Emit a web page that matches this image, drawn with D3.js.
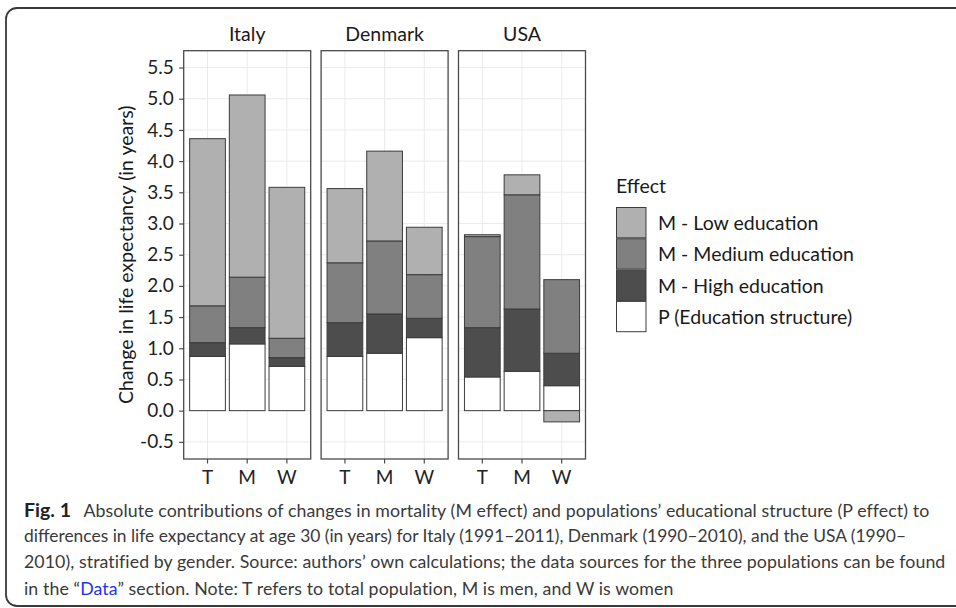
<!DOCTYPE html>
<html><head><meta charset="utf-8">
<script src="https://cdn.jsdelivr.net/npm/d3@7"></script>
<style>body{margin:0;background:#fff}svg{display:block}</style>
</head><body>
<script>
// ---- data ----
const panels = ["Italy", "Denmark", "USA"];
const groups = ["T", "M", "W"];
const effects = ["M - Low education", "M - Medium education", "M - High education", "P (Education structure)"];
// values per panel (Italy T,M,W | Denmark T,M,W | USA T,M,W)
const pEffect = [0.87, 1.07, 0.71, 0.87, 0.92, 1.17, 0.54, 0.63, 0.40];
const mHigh   = [0.22, 0.26, 0.14, 0.54, 0.63, 0.31, 0.79, 1.00, 0.52];
const mMedium = [0.59, 0.81, 0.31, 0.96, 1.17, 0.70, 1.46, 1.83, 1.18];
const mLow    = [2.68, 2.92, 2.42, 1.19, 1.44, 0.76, 0.03, 0.32, -0.18];
const yTicks = [-0.5, 0, 0.5, 1, 1.5, 2, 2.5, 3, 3.5, 4, 4.5, 5, 5.5];
const colors = ["#b0b0b0", "#808080", "#4d4d4d", "#ffffff"];
const captionLines = [
  "Absolute contributions of changes in mortality (M effect) and populations\u2019 educational structure (P effect) to",
  "differences in life expectancy at age 30 (in years) for Italy (1991\u20132011), Denmark (1990\u20132010), and the USA (1990\u2013",
  "2010), stratified by gender. Source: authors\u2019 own calculations; the data sources for the three populations can be found"
];
const captionLast = ["in the \u201c", "Data", "\u201d section. Note: T refers to total population, M is men, and W is women"];

// ---- build ----
const W = 956, H = 608;
const svg = d3.select("body").append("svg").attr("width", W).attr("height", H);
const chartFont = "Lato";

// outer frame
svg.append("rect").attr("x", 6).attr("y", 8).attr("width", 990).attr("height", 598)
  .attr("rx", 11).attr("fill", "none").attr("stroke", "#3a3a3a").attr("stroke-width", 1.8);

const rows = [];
panels.forEach((p, pi) => groups.forEach((g, gi) => {
  const k = pi * 3 + gi;
  rows.push({panel: p, group: g, P: pEffect[k], High: mHigh[k], Medium: mMedium[k], Low: mLow[k]});
}));
const stackKeys = ["P", "High", "Medium", "Low"];
const keyColor = {Low: colors[0], Medium: colors[1], High: colors[2], P: colors[3]};
const stacked = d3.stack().keys(stackKeys).offset(d3.stackOffsetDiverging)(rows);

const yTop = 50.7, yBottom = 459;
const y = d3.scaleLinear().domain([-0.775, 5.77]).range([yBottom, yTop]);
const panelW = 127, panelLeft0 = 183.7, panelStep = 137.4;

panels.forEach((p, pi) => {
  const x0 = panelLeft0 + pi * panelStep;
  const g = svg.append("g").attr("transform", `translate(${x0},0)`);
  const x = d3.scaleBand().domain(groups).range([0, panelW]).paddingInner(0.1).paddingOuter(0.15);
  // grid
  g.append("g").selectAll("line").data(yTicks).join("line")
    .attr("x1", 0).attr("x2", panelW).attr("y1", d => y(d)).attr("y2", d => y(d))
    .attr("stroke", "#ebebeb").attr("stroke-width", 1);
  g.append("g").selectAll("line").data(groups).join("line")
    .attr("x1", d => x(d) + x.bandwidth() / 2).attr("x2", d => x(d) + x.bandwidth() / 2)
    .attr("y1", yTop).attr("y2", yBottom)
    .attr("stroke", "#ebebeb").attr("stroke-width", 1);
  // bars
  stacked.forEach(layer => {
    g.append("g").selectAll("rect").data(layer.filter(d => d.data.panel === p)).join("rect")
      .attr("x", d => x(d.data.group))
      .attr("width", x.bandwidth())
      .attr("y", d => y(Math.max(d[0], d[1])))
      .attr("height", d => Math.abs(y(d[0]) - y(d[1])))
      .attr("fill", keyColor[layer.key])
      .attr("stroke", "#3c3c3c").attr("stroke-width", 1);
  });
  // border
  g.append("rect").attr("x", 0).attr("y", yTop).attr("width", panelW).attr("height", yBottom - yTop)
    .attr("fill", "none").attr("stroke", "#4a4a4a").attr("stroke-width", 1.3);
  // x axis
  const ax = g.append("g").attr("transform", `translate(0,${yBottom})`)
    .call(d3.axisBottom(x).tickSize(4.5).tickPadding(7));
  ax.select(".domain").remove();
  ax.selectAll("line").attr("stroke", "#4a4a4a").attr("stroke-width", 1.2);
  ax.selectAll("text").attr("font-family", chartFont).attr("font-size", 19).attr("fill", "#222");
  // strip
  svg.append("text").attr("x", x0 + panelW / 2).attr("y", 40.5).attr("text-anchor", "middle")
    .attr("font-family", chartFont).attr("font-size", 19.5).attr("fill", "#1a1a1a").text(p);
});

// y axis
const ay = svg.append("g").attr("transform", `translate(${panelLeft0},0)`)
  .call(d3.axisLeft(y).tickValues(yTicks).tickFormat(d => d.toFixed(1)).tickSize(4.5).tickPadding(5.5));
ay.select(".domain").remove();
ay.selectAll("line").attr("stroke", "#4a4a4a").attr("stroke-width", 1.2);
ay.selectAll("text").attr("font-family", chartFont).attr("font-size", 19).attr("fill", "#222");

svg.append("text").attr("transform", `translate(133,${(yTop + yBottom) / 2}) rotate(-90)`)
  .attr("text-anchor", "middle").attr("font-family", chartFont).attr("font-size", 19.5)
  .attr("fill", "#1a1a1a").text("Change in life expectancy (in years)");

// legend
const lg = svg.append("g").attr("transform", "translate(616,0)");
lg.append("text").attr("x", 0).attr("y", 193).attr("font-family", chartFont).attr("font-size", 19.5)
  .attr("fill", "#1a1a1a").text("Effect");
effects.forEach((e, i) => {
  const yy = 207.5 + i * 31.3;
  lg.append("rect").attr("x", 0.5).attr("y", yy).attr("width", 29.5).attr("height", 30.3)
    .attr("fill", colors[i]).attr("stroke", "#3c3c3c").attr("stroke-width", 1);
  lg.append("text").attr("x", 42).attr("y", yy + 22.5).attr("font-family", chartFont).attr("font-size", 19.5)
    .attr("fill", "#1a1a1a").text(e);
});

// caption
const capFont = "Lato";
const lineY = [516.7, 542, 568.3, 594.5];
svg.append("text").attr("x", 24).attr("y", lineY[0]).attr("font-family", capFont).attr("font-size", 19.5)
  .attr("font-weight", "bold").attr("fill", "#222").text("Fig. 1");
const capWidths = [[83.5, 929], [24, 906], [24, 946]];
// find a common font size so the lines fit their widths
const probe = svg.append("text").attr("font-family", capFont).attr("font-size", 20);
let scaleSum = 0;
captionLines.forEach((t, i) => {
  probe.text(t);
  scaleSum += (capWidths[i][1] - capWidths[i][0]) / probe.node().getComputedTextLength();
});
probe.remove();
const capSize = Math.min(20 * scaleSum / captionLines.length, 19.5);
captionLines.forEach((t, i) => {
  const txt = svg.append("text").attr("x", capWidths[i][0]).attr("y", lineY[i]).attr("font-family", capFont)
    .attr("font-size", capSize).attr("fill", "#3a3a3a").text(t);
  const nat = txt.node().getComputedTextLength();
  const target = capWidths[i][1] - capWidths[i][0];
  if (Math.abs(nat - target) > 1 && nat > target) {
    txt.attr("textLength", target).attr("lengthAdjust", "spacingAndGlyphs");
  } else if (nat < target) {
    txt.attr("letter-spacing", (target - nat) / t.length);
  }
});
const l4 = svg.append("text").attr("x", 24).attr("y", lineY[3]).attr("font-family", capFont)
  .attr("font-size", capSize).attr("fill", "#3a3a3a");
l4.append("tspan").text(captionLast[0]);
l4.append("tspan").attr("fill", "#2233ee").text(captionLast[1]);
l4.append("tspan").text(captionLast[2]);
const nat4 = l4.node().getComputedTextLength();
const chars4 = captionLast.join("").length;
if (nat4 < 650) l4.attr("letter-spacing", (650 - nat4) / chars4);
</script>
</body></html>
